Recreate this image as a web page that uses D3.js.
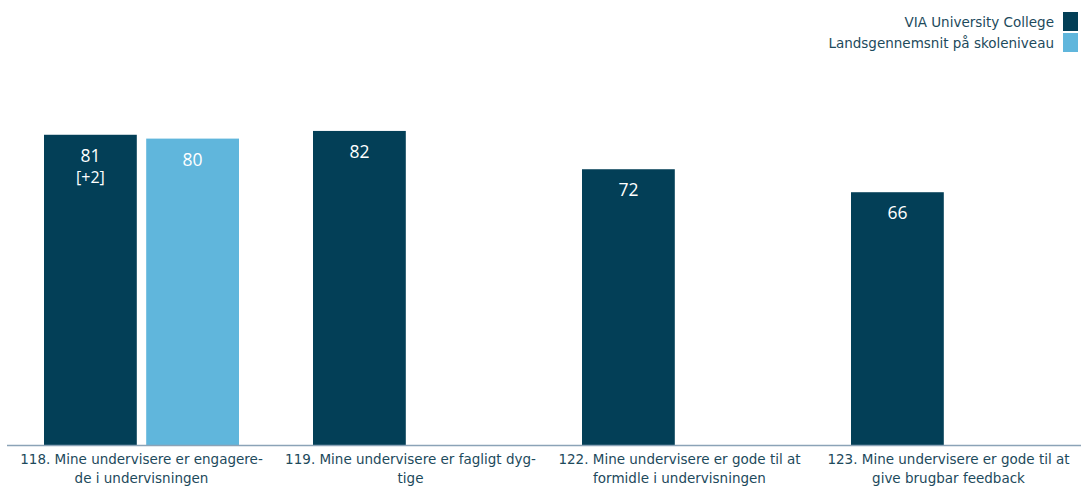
<!DOCTYPE html>
<html><head><meta charset="utf-8">
<script src="https://cdn.jsdelivr.net/npm/d3@7"></script>
<style>body{margin:0;background:#fff}svg{display:block}</style>
</head><body>
<script>
const categories = [
  ["118. Mine undervisere er engagere-", "de i undervisningen"],
  ["119. Mine undervisere er fagligt dyg-", "tige"],
  ["122. Mine undervisere er gode til at", "formidle i undervisningen"],
  ["123. Mine undervisere er gode til at", "give brugbar feedback"]
];
const seriesNames = ["VIA University College", "Landsgennemsnit på skoleniveau"];
const viaValues = [81, 82, 72, 66];
const nationalValues = [80, null, null, null];
const diffLabels = ["[+2]", null, null, null];
const colors = ["#033f57", "#60b6dc"];

const W = 1081, H = 489;
const svg = d3.select("body").append("svg").attr("width", W).attr("height", H);

const x0 = d3.scaleBand().domain(d3.range(categories.length)).range([7, 1083]).padding(0);
const x1 = d3.scaleBand().domain([0, 1]).range([37, 232]).paddingInner(0.092);
const y = d3.scaleLinear().domain([0, 100]).range([445, 62]);

const labelFont = "Tahoma, 'DejaVu Sans', sans-serif";
const textColor = "#1d4a5c";

const g = svg.selectAll("g.grp").data(categories).enter().append("g")
  .attr("transform", (d, i) => `translate(${x0(i)},0)`);

const bars = [];
categories.forEach((c, i) => {
  if (viaValues[i] != null) bars.push({i, s: 0, v: viaValues[i], sub: diffLabels[i]});
  if (nationalValues[i] != null) bars.push({i, s: 1, v: nationalValues[i], sub: null});
});

const bg = svg.selectAll("g.bar").data(bars).enter().append("g")
  .attr("transform", d => `translate(${x0(d.i) + x1(d.s)},0)`);
bg.append("rect")
  .attr("x", 0).attr("y", d => y(d.v))
  .attr("width", x1.bandwidth()).attr("height", d => y(0) - y(d.v))
  .attr("fill", d => colors[d.s]);
bg.append("text")
  .attr("x", x1.bandwidth() / 2).attr("y", d => y(d.v) + 27)
  .attr("text-anchor", "middle").attr("fill", "#fff")
  .attr("font-family", "'Open Sans', 'Noto Sans', sans-serif").attr("font-size", 17.5)
  .text(d => d.v);
bg.filter(d => d.sub).append("text")
  .attr("x", x1.bandwidth() / 2).attr("y", d => y(d.v) + 48)
  .attr("text-anchor", "middle").attr("fill", "#fff")
  .attr("font-family", "'Open Sans', 'Noto Sans', sans-serif").attr("font-size", 16)
  .text(d => d.sub);

// axis line
svg.append("line").attr("x1", 7).attr("x2", W).attr("y1", y(0) + 0.5).attr("y2", y(0) + 0.5)
  .attr("stroke", "#8ba3b7").attr("stroke-width", 1.5);

// category labels
g.each(function(d) {
  const t = d3.select(this).append("text")
    .attr("text-anchor", "middle").attr("fill", textColor)
    .attr("font-family", labelFont).attr("font-size", 13.5);
  d.forEach((line, k) => {
    t.append("tspan").attr("x", x0.bandwidth() / 2).attr("y", 464 + k * 19).text(line);
  });
});

// legend
const lg = svg.append("g");
seriesNames.forEach((name, k) => {
  const yy = 12 + k * 21;
  lg.append("rect").attr("x", 1063).attr("y", yy).attr("width", 15).attr("height", 19).attr("fill", colors[k]);
  lg.append("text").attr("x", 1054).attr("y", yy + 15).attr("text-anchor", "end")
    .attr("fill", textColor).attr("font-family", labelFont).attr("font-size", 13.5).text(name);
});
</script>
</body></html>
